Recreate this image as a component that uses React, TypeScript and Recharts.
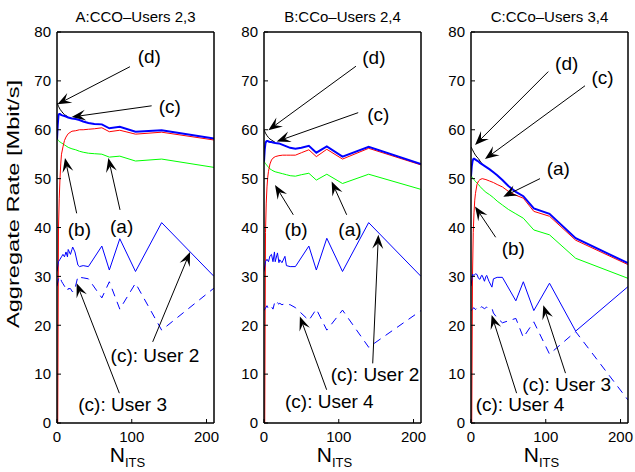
import React from 'react';
import { LineChart, Line, XAxis, YAxis, ReferenceLine, ReferenceDot } from 'recharts';

// ---------- data ----------
const SMOOTH_N = [0, 1, 2, 3, 4, 5, 6, 8, 10, 12, 15, 20, 25, 30, 35, 42, 50, 60, 70, 84, 105, 140, 210];
const RED_N = [1, 2, 3, 4, 5, 6, 8, 10, 12, 15, 20, 25, 30, 35, 42, 50, 60, 70, 84, 105, 140, 210];
const BLACK_N = [0, 2, 4, 6, 8, 10, 12, 15];
const USER_N = [0, 2, 4, 6, 8, 10, 12, 14, 15, 18, 20, 21, 24, 28, 30, 35, 42, 60, 70, 84, 105, 140, 210];

// Panel A
const A_C = [58, 61, 63, 63.2, 63.2, 63.1, 63, 62.9, 62.8, 62.7, 62.5, 62.3, 62.2, 62, 61.7, 61.4, 61.2, 61.1, 60.3, 60.6, 59.6, 59.9, 58.2];
const A_A = [58.3, 58, 57.8, 57.6, 57.5, 57.4, 57.3, 57.1, 56.9, 56.7, 56.4, 56.1, 55.9, 55.6, 55.4, 55.2, 55.1, 55, 54.4, 54.6, 53.6, 54, 52.3];
const A_B = [0, 40, 46, 50, 53, 55, 56.5, 57.8, 58.5, 59.2, 59.7, 59.8, 60, 60, 60.1, 60.2, 60.4, 59.6, 59.9, 59.1, 59.5, 57.9];
const A_D = [65.5, 64.8, 64.2, 63.8, 63.4, 63.1, 62.9, 62.6];
const A_U1 = [31, 33, 33.5, 34, 34.5, 34, 35, 34, 35.5, 34.5, 35.5, 36, 35, 32.3, 32, 32.2, 32, 36.2, 31.3, 37.7, 31, 41, 30];
const A_U2 = [28, 29.5, 30, 29, 28.5, 28, 27.5, 27, 27.5, 27.5, 27, 26.8, 27.5, 30, 29.8, 29.7, 29.5, 25.6, 28.9, 23.3, 28.6, 19, 27.6];

// Panel B
const B_C = [53.5, 56, 57.3, 57.6, 57.7, 57.7, 57.6, 57.5, 57.5, 57.4, 57.3, 57.2, 56.9, 56.6, 56.3, 56.1, 56.3, 56.7, 55.3, 56.6, 54.5, 56.5, 53];
const B_A = [53.6, 53.3, 53.1, 52.9, 52.7, 52.5, 52.3, 52, 51.8, 51.6, 51.4, 51.2, 51, 50.8, 50.6, 50.5, 50.8, 51.1, 49.7, 50.9, 49, 50.9, 47.8];
const B_B = [0, 39, 45, 48.3, 50.3, 51.5, 53, 53.8, 54.2, 54.5, 54.7, 54.8, 54.8, 54.8, 54.8, 55.3, 55.9, 54.5, 56, 54, 56.2, 52.8];
const B_D = [60, 59.3, 58.8, 58.4, 58.1, 57.9, 57.7, 57.4];
const B_U1 = [31, 33, 33.5, 33, 34.2, 34.5, 33, 35, 33, 34.8, 32.8, 33.4, 32.8, 34.1, 32.2, 32, 32, 36.2, 31.3, 37.8, 31, 41, 30];
const B_U2 = [23, 23.5, 24, 23.3, 23.5, 23.8, 23.3, 24.5, 24, 24.6, 24.3, 24.5, 24.2, 24.4, 24.3, 24.2, 23.6, 21, 23.3, 19, 23.1, 15.5, 23];

// Panel C
const C_C = [50.5, 52.5, 53.5, 54, 54.1, 54, 53.9, 53.7, 53.5, 53.2, 52.9, 52.4, 51.9, 51.3, 50.7, 49.7, 48.5, 47.3, 46.4, 43.9, 42.8, 37.8, 32.7];
const C_A = [50.7, 50.4, 50.2, 50, 49.8, 49.6, 49.4, 49.1, 48.8, 48.4, 47.9, 47.2, 46.7, 46.1, 45.4, 44.6, 43.7, 42.8, 41.9, 39.5, 38.5, 33.7, 29.6];
const C_B = [0, 30, 39, 43, 45.6, 47, 48.8, 49.5, 49.8, 50, 49.8, 49.5, 49.2, 48.8, 48.3, 47.4, 46.6, 46, 43.3, 42.3, 37.4, 32.4];
const C_D = [56.5, 55.9, 55.3, 54.8, 54.4, 54.1, 53.6, 53];
const C_U1 = [28, 30.4, 30.2, 30.5, 30.4, 29.6, 29.4, 30.2, 30.2, 29, 30, 30.2, 29, 27.8, 29.5, 29.8, 29.8, 25, 28.9, 23, 28.6, 18.8, 27.9];
const C_U2 = [23, 23.3, 23.6, 23.2, 23.5, 23.7, 23.4, 23.8, 23.7, 23.4, 23.6, 23.7, 23.5, 23.5, 22.5, 21.5, 20.5, 21.4, 17.5, 20.7, 14.1, 18.7, 4.7];

const X_TICKS = [0, 100, 200];
const Y_TICKS = [0, 10, 20, 30, 40, 50, 60, 70, 80];

// ---------- annotations (data coordinates) ----------
type Arrow = { from: [number, number]; to: [number, number] };
type Note = { text: string; at: [number, number] };

const A_ARROWS: Arrow[] = [
  { from: [97.6, 72.9], to: [0.5, 65.2] },
  { from: [126.6, 64.9], to: [19.6, 62.6] },
  { from: [26.3, 42.9], to: [10.7, 54.2] },
  { from: [84.3, 43.6], to: [68.7, 54.2] },
  { from: [128, 16.6], to: [178, 35] },
  { from: [83.4, 6.1], to: [26.3, 28.6] },
];
const A_NOTES: Note[] = [
  { text: '(d)', at: [123.5, 74.9] },
  { text: '(c)', at: [151, 64.7] },
  { text: '(b)', at: [29.9, 39.6] },
  { text: '(a)', at: [86.5, 40.3] },
  { text: '(c): User 2', at: [131, 13.9] },
  { text: '(c): User 3', at: [87.8, 3.7] },
];
const B_ARROWS: Arrow[] = [
  { from: [123, 73], to: [5.8, 59.9] },
  { from: [126, 63.5], to: [17, 57.6] },
  { from: [39.2, 42.6], to: [14.7, 48.7] },
  { from: [110.6, 42.6], to: [90.5, 49.4] },
  { from: [145.4, 12.2], to: [153, 38.5] },
  { from: [83.8, 6.8], to: [48, 21.8] },
];
const B_NOTES: Note[] = [
  { text: '(d)', at: [147, 74.8] },
  { text: '(c)', at: [153, 63.2] },
  { text: '(b)', at: [42.8, 39.6] },
  { text: '(a)', at: [115, 39.6] },
  { text: '(c): User 2', at: [148.5, 10] },
  { text: '(c): User 4', at: [87.4, 4.4] },
];
const C_ARROWS: Arrow[] = [
  { from: [103.4, 71.9], to: [5.4, 56.9] },
  { from: [152.5, 69], to: [18.7, 54] },
  { from: [92.3, 50], to: [43.2, 46.3] },
  { from: [33, 38], to: [5.4, 44.3] },
  { from: [126.4, 10.2], to: [96.7, 24.1] },
  { from: [61, 6.1], to: [27.6, 22.1] },
];
const C_NOTES: Note[] = [
  { text: '(d)', at: [128, 73.6] },
  { text: '(c)', at: [176, 70.7] },
  { text: '(a)', at: [116.8, 52.1] },
  { text: '(b)', at: [56.6, 35.7] },
  { text: '(c): User 3', at: [128, 7.8] },
  { text: '(c): User 4', at: [65.5, 3.8] },
];

// ---------- helpers ----------
const FONT = '"Liberation Sans", Arial, Helvetica, sans-serif';
const pts = (xs: number[], ys: number[]) => xs.map((n, i) => ({ n, v: ys[i] }));

const ArrowShape = (props: any) => {
  const { x1, y1, x2, y2 } = props;
  const dx = x2 - x1;
  const dy = y2 - y1;
  const len = Math.hypot(dx, dy) || 1;
  const ux = dx / len;
  const uy = dy / len;
  const nx = -uy;
  const ny = ux;
  const L = 14;
  const W = 5.5;
  const bx = x2 - ux * L;
  const by = y2 - uy * L;
  const mx = x2 - ux * L * 0.6;
  const my = y2 - uy * L * 0.6;
  return (
    <g>
      <line x1={x1} y1={y1} x2={mx} y2={my} stroke="#000" strokeWidth={1} />
      <polygon
        points={`${x2},${y2} ${bx + nx * W},${by + ny * W} ${mx},${my} ${bx - nx * W},${by - ny * W}`}
        fill="#000"
      />
    </g>
  );
};

const makeNoteShape = (text: string) => (props: any) => (
  <text
    x={props.cx}
    y={props.cy}
    textAnchor="middle"
    dominantBaseline="central"
    fontFamily={FONT}
    fontSize={19}
    fill="#000"
  >
    {text}
  </text>
);

type PanelProps = {
  left: number;
  title: string;
  c: number[];
  a: number[];
  b: number[];
  d: number[];
  u1: number[];
  u2: number[];
  arrows: Arrow[];
  notes: Note[];
  yLabel?: boolean;
};

const Panel = ({ left, title, c, a, b, d, u1, u2, arrows, notes, yLabel }: PanelProps) => {
  const tickStyle = { fontFamily: FONT, fontSize: 15, fill: '#000' };
  const axisLine = { stroke: '#000', strokeWidth: 1.5 };
  return (
    <div style={{ position: 'absolute', left, top: 0 }}>
      <LineChart width={220} height={472} margin={{ top: 31, right: 5, bottom: 1, left: 0 }}>
        <XAxis
          xAxisId="b"
          dataKey="n"
          type="number"
          domain={[0, 210]}
          ticks={X_TICKS}
          allowDataOverflow
          height={48}
          tickSize={-4}
          tickMargin={12}
          tick={tickStyle}
          axisLine={axisLine}
          tickLine={{ stroke: '#000' }}
          label={{
            content: (p: any) => {
              const vb = p.viewBox;
              return (
                <text x={vb.x + vb.width / 2 - 8} y={vb.y + 39} textAnchor="middle" fontFamily={FONT} fill="#000">
                  <tspan fontSize={21}>N</tspan>
                  <tspan fontSize={13} dy={5}>ITS</tspan>
                </text>
              );
            },
          }}
        />
        <XAxis
          xAxisId="t"
          orientation="top"
          dataKey="n"
          type="number"
          domain={[0, 210]}
          ticks={X_TICKS}
          allowDataOverflow
          height={1}
          tickSize={-4}
          tick={false}
          axisLine={axisLine}
          tickLine={{ stroke: '#000' }}
          label={{
            content: (p: any) => {
              const vb = p.viewBox;
              return (
                <text x={vb.x + vb.width / 2} y={22} textAnchor="middle" fontFamily={FONT} fontSize={15} fill="#000">
                  {title}
                </text>
              );
            },
          }}
        />
        <YAxis
          yAxisId="l"
          type="number"
          domain={[0, 80]}
          ticks={Y_TICKS}
          allowDataOverflow
          width={57}
          tickSize={-4}
          tickMargin={10}
          tick={tickStyle}
          axisLine={axisLine}
          tickLine={{ stroke: '#000' }}
          label={
            yLabel
              ? {
                  content: () => (
                    <text
                      x={0}
                      y={0}
                      transform="translate(19,204) rotate(-90)"
                      textAnchor="middle"
                      fontFamily={FONT}
                      fontSize={17}
                      textLength={248}
                      lengthAdjust="spacingAndGlyphs"
                      fill="#000"
                    >
                      Aggregate Rate [Mbit/s]
                    </text>
                  ),
                }
              : undefined
          }
        />
        <YAxis
          yAxisId="r"
          orientation="right"
          type="number"
          domain={[0, 80]}
          ticks={Y_TICKS}
          allowDataOverflow
          width={1}
          tickSize={-4}
          tick={false}
          axisLine={axisLine}
          tickLine={{ stroke: '#000' }}
        />
        <Line xAxisId="b" yAxisId="l" data={pts(BLACK_N, d)} dataKey="v" stroke="#000" strokeWidth={1} dot={false} isAnimationActive={false} />
        <Line xAxisId="b" yAxisId="l" data={pts(SMOOTH_N, a)} dataKey="v" stroke="#00ff00" strokeWidth={1} dot={false} isAnimationActive={false} />
        <Line xAxisId="b" yAxisId="l" data={pts(RED_N, b)} dataKey="v" stroke="#ff0000" strokeWidth={1} dot={false} isAnimationActive={false} />
        <Line xAxisId="b" yAxisId="l" data={pts(SMOOTH_N, c)} dataKey="v" stroke="#0000ff" strokeWidth={2} dot={false} isAnimationActive={false} />
        <Line xAxisId="b" yAxisId="l" data={pts(USER_N, u1)} dataKey="v" stroke="#0000ff" strokeWidth={1} dot={false} isAnimationActive={false} />
        <Line xAxisId="b" yAxisId="l" data={pts(USER_N, u2)} dataKey="v" stroke="#0000ff" strokeWidth={1} strokeDasharray="8 6" dot={false} isAnimationActive={false} />
        {arrows.map((ar, i) => (
          <ReferenceLine
            key={'ar' + i}
            xAxisId="b"
            yAxisId="l"
            segment={[{ x: ar.from[0], y: ar.from[1] }, { x: ar.to[0], y: ar.to[1] }]}
            ifOverflow="visible"
            shape={ArrowShape}
          />
        ))}
        {notes.map((nt, i) => (
          <ReferenceDot
            key={'nt' + i}
            xAxisId="b"
            yAxisId="l"
            x={nt.at[0]}
            y={nt.at[1]}
            r={0}
            ifOverflow="visible"
            shape={makeNoteShape(nt.text)}
          />
        ))}
      </LineChart>
    </div>
  );
};

export default function App() {
  return (
    <div style={{ position: 'absolute', left: 0, top: 0, width: 635, height: 472, background: '#fff', overflow: 'hidden' }}>
      <Panel left={0} title="A:CCO–Users 2,3" c={A_C} a={A_A} b={A_B} d={A_D} u1={A_U1} u2={A_U2} arrows={A_ARROWS} notes={A_NOTES} yLabel />
      <Panel left={207} title="B:CCo–Users 2,4" c={B_C} a={B_A} b={B_B} d={B_D} u1={B_U1} u2={B_U2} arrows={B_ARROWS} notes={B_NOTES} />
      <Panel left={414} title="C:CCo–Users 3,4" c={C_C} a={C_A} b={C_B} d={C_D} u1={C_U1} u2={C_U2} arrows={C_ARROWS} notes={C_NOTES} />
    </div>
  );
}
